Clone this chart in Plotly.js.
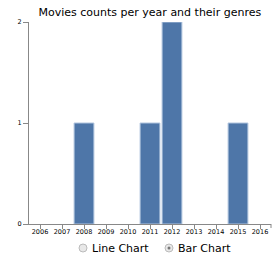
<!DOCTYPE html>
<html><head><meta charset="utf-8">
<script src="https://cdn.plot.ly/plotly-3.0.1.min.js"></script>
<style>html,body{margin:0;padding:0;background:#fff;}#chart{width:275px;height:256px;}</style>
</head><body><div id="chart"></div>
<script>
const years = [2008, 2011, 2012, 2015];
const counts = [1, 1, 2, 1];
const tickYears = [2006, 2007, 2008, 2009, 2010, 2011, 2012, 2013, 2014, 2015, 2016];
const yTicks = [0, 1, 2];
const titleText = "Movies counts per year and their genres";
const radioLabels = ["Line Chart", "Bar Chart"];

const font = "DejaVu Sans, Verdana, sans-serif";
const trace = {
  type: 'bar', x: years, y: counts, width: 0.9,
  marker: {color: 'rgb(78,118,168)', line: {color: '#b0c4de', width: 1}},
  hoverinfo: 'none'
};
// plot area: x 29..271, y 22..224
const W = 242, H = 202;
function px(x){return (x-29)/W;}
function py(y){return (224-y)/H;}
const layout = {
  width: 275, height: 256,
  margin: {l: 29, r: 4, t: 22, b: 32},
  paper_bgcolor: '#fff', plot_bgcolor: '#fff',
  showlegend: false,
  title: {text: titleText, font: {family: font, size: 11, color: '#000'}, x: 0.545, xanchor: 'center', y: 0.953, yanchor: 'middle'},
  xaxis: {range: [2005.5, 2016.5], tickvals: tickYears, ticktext: tickYears.map(String),
    showgrid: false, zeroline: false, showline: true, linecolor: '#888', linewidth: 1,
    ticks: 'outside', ticklen: 4, tickcolor: '#888', ticklabelstandoff: -3,
    tickfont: {family: font, size: 6.5, color: '#000'}, fixedrange: true},
  yaxis: {range: [0, 2], tickvals: yTicks, ticktext: yTicks.map(String),
    showgrid: false, zeroline: false, showline: true, linecolor: '#888', linewidth: 1,
    ticks: 'outside', ticklen: 5, tickcolor: '#888', tickfont: {family: font, size: 6.5, color: '#000'}, fixedrange: true},
  shapes: [
    {type: 'circle', xref: 'paper', yref: 'paper', x0: px(79), x1: px(87), y0: py(244), y1: py(252), line: {color: '#bbb', width: 1}, fillcolor: '#e8e8e8'},
    {type: 'circle', xref: 'paper', yref: 'paper', x0: px(165), x1: px(173), y0: py(244), y1: py(252), line: {color: '#bbb', width: 1}, fillcolor: '#e8e8e8'},
    {type: 'circle', xref: 'paper', yref: 'paper', x0: px(167.5), x1: px(170.5), y0: py(246.5), y1: py(249.5), line: {color: '#777', width: 0}, fillcolor: '#777'},
    {type: 'line', xref: 'paper', yref: 'paper', x0: 1, x1: 1, y0: 0, y1: py(228), line: {color: '#888', width: 1}}
  ],
  annotations: [
    {xref: 'paper', yref: 'paper', x: px(90), y: py(248), xanchor: 'left', yanchor: 'middle', showarrow: false, text: radioLabels[0], font: {family: font, size: 11, color: '#000'}},
    {xref: 'paper', yref: 'paper', x: px(176), y: py(248), xanchor: 'left', yanchor: 'middle', showarrow: false, text: radioLabels[1], font: {family: font, size: 11, color: '#000'}}
  ]
};
Plotly.newPlot('chart', [trace], layout, {displayModeBar: false, staticPlot: true});
</script></body></html>
